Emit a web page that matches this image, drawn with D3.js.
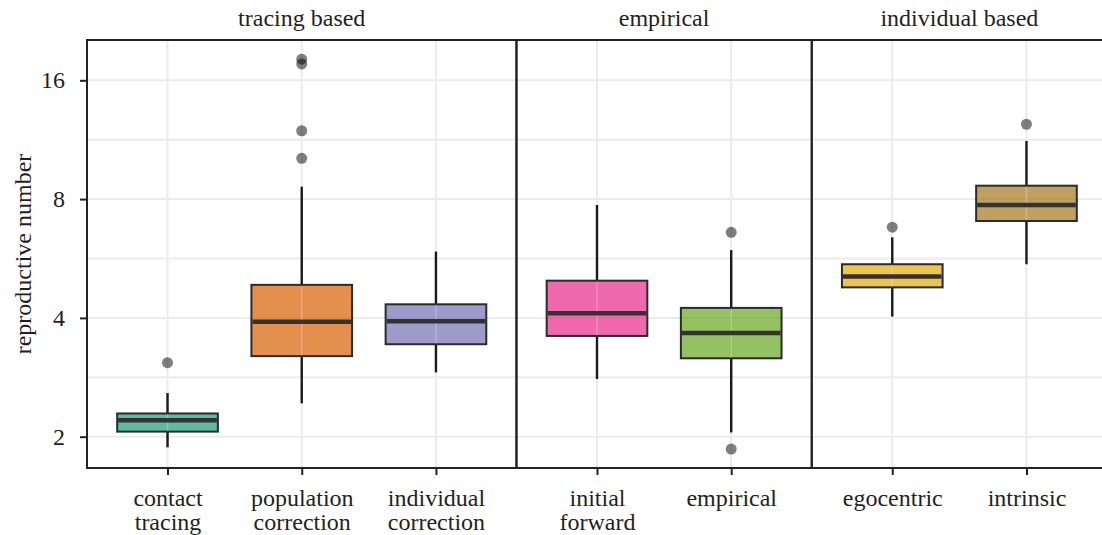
<!DOCTYPE html>
<meta charset="utf-8">
<style>
  body { margin: 0; background: #fff; }
  svg { display: block; font-family: "Liberation Serif", "Times New Roman", serif; }
  .grid line { stroke: #ebebeb; stroke-width: 2px; }
  .axis path { display: none; }
  .axis line { stroke: #222; stroke-width: 2px; }
  .axis text { fill: #1f1f1f; font-size: 24px; font-family: "Liberation Serif", "Times New Roman", serif; }
  .strip { fill: #1f1f1f; font-size: 24px; }
  .frame { fill: none; stroke: #222; stroke-width: 2px; }
</style>
<body>
<svg width="1102" height="535"></svg>
<script src="https://d3js.org/d3.v7.min.js"></script>
<script>
// data -------------------------------------------------------------------
const facets = ["tracing based", "empirical", "individual based"];
const categories = ["contact tracing", "population correction", "individual correction",
                    "initial forward", "empirical", "egocentric", "intrinsic"];
const catLabels = [["contact", "tracing"], ["population", "correction"], ["individual", "correction"],
                   ["initial", "forward"], ["empirical"], ["egocentric"], ["intrinsic"]];
const facetOf = [0, 0, 0, 1, 1, 2, 2];
const whiskerLow = [1.88, 2.43, 2.91, 2.80, 2.05, 4.03, 5.47];
const q1 = [2.06, 3.20, 3.43, 3.60, 3.16, 4.78, 7.04];
const median = [2.20, 3.91, 3.92, 4.11, 3.66, 5.09, 7.73];
const q3 = [2.29, 4.85, 4.33, 4.97, 4.24, 5.47, 8.65];
const whiskerHigh = [2.58, 8.60, 5.89, 7.73, 5.94, 6.40, 11.23];
const outliers = [[3.08], [10.15, 11.92, 17.6, 18.1], [], [], [6.59, 1.86], [6.79], [12.38]];
const yTicks = [2, 4, 8, 16];
const yMinor = [2.83, 5.66, 11.31];
const colors = ["#1B9E77", "#D95F02", "#7570B3", "#E7298A", "#66A61E", "#E6AB02", "#A6761D"];
//--------------------------------------------------------------------------

const svg = d3.select("svg");
const mLeft = 87, mRight = 1107, mTop = 40, mBottom = 468;

const y = d3.scaleLog().base(2).domain([1.666, 20.24]).range([mBottom, mTop]);

// panel widths follow the number of categories (0.6 step expansion each side)
const counts = facets.map((f, i) => facetOf.filter(d => d === i).length);
const units = d3.sum(counts, c => c + 0.2);
const step = (mRight - mLeft) / units;
let cursor = mLeft;
const panels = facets.map((f, i) => {
  const x0 = cursor, x1 = cursor + (counts[i] + 0.2) * step;
  cursor = x1;
  const cats = categories.filter((c, j) => facetOf[j] === i);
  const x = d3.scalePoint().domain(cats).range([x0, x1]).padding(0.6);
  return { name: f, x0, x1, cats, x };
});

const xOf = j => panels[facetOf[j]].x(categories[j]);

// grid
panels.forEach(p => {
  const g = svg.append("g").attr("class", "grid");
  g.selectAll(".h").data(yTicks.concat(yMinor)).enter().append("line")
    .attr("x1", p.x0).attr("x2", p.x1)
    .attr("y1", d => y(d)).attr("y2", d => y(d));
  g.selectAll(".v").data(p.cats).enter().append("line")
    .attr("x1", d => p.x(d)).attr("x2", d => p.x(d))
    .attr("y1", mTop).attr("y2", mBottom);
});

// boxes
const bw = step * 0.75;
const idx = d3.range(categories.length);
const boxes = svg.append("g");

boxes.selectAll(".wl").data(idx).enter().append("line")
  .attr("x1", xOf).attr("x2", xOf)
  .attr("y1", j => y(whiskerLow[j])).attr("y2", j => y(q1[j]))
  .attr("stroke", "#1a1a1a").attr("stroke-width", 2.4);
boxes.selectAll(".wh").data(idx).enter().append("line")
  .attr("x1", xOf).attr("x2", xOf)
  .attr("y1", j => y(q3[j])).attr("y2", j => y(whiskerHigh[j]))
  .attr("stroke", "#1a1a1a").attr("stroke-width", 2.4);

boxes.selectAll(".box").data(idx).enter().append("rect")
  .attr("x", j => xOf(j) - bw / 2).attr("width", bw)
  .attr("y", j => y(q3[j])).attr("height", j => y(q1[j]) - y(q3[j]))
  .attr("fill", j => colors[j]).attr("fill-opacity", 0.7)
  .attr("stroke", "#2b2b2b").attr("stroke-width", 2);

boxes.selectAll(".sheen").data(idx).enter().append("line")
  .attr("x1", xOf).attr("x2", xOf)
  .attr("y1", j => y(q3[j]) + 1).attr("y2", j => y(q1[j]) - 1)
  .attr("stroke", "#fff").attr("stroke-opacity", 0.3).attr("stroke-width", 1.5);

boxes.selectAll(".med").data(idx).enter().append("line")
  .attr("x1", j => xOf(j) - bw / 2 + 1).attr("x2", j => xOf(j) + bw / 2 - 1)
  .attr("y1", j => y(median[j])).attr("y2", j => y(median[j]))
  .attr("stroke", "#333").attr("stroke-width", 4.5);

// outliers
const pts = idx.flatMap(j => outliers[j].map(v => ({ j, v })));
svg.append("g").selectAll("circle").data(pts).enter().append("circle")
  .attr("cx", d => xOf(d.j)).attr("cy", d => y(d.v)).attr("r", 5.5)
  .attr("fill", "#000").attr("fill-opacity", 0.5);

// panel frames and strips
panels.forEach(p => {
  svg.append("rect").attr("class", "frame")
    .attr("x", p.x0).attr("y", mTop).attr("width", p.x1 - p.x0).attr("height", mBottom - mTop);
  svg.append("text").attr("class", "strip")
    .attr("x", (p.x0 + p.x1) / 2).attr("y", 26).attr("text-anchor", "middle")
    .text(p.name);

  const ax = svg.append("g").attr("class", "axis")
    .attr("transform", `translate(0,${mBottom})`)
    .call(d3.axisBottom(p.x).tickSize(7).tickFormat(""));
  ax.selectAll(".tick").append("text")
    .attr("y", 38).attr("text-anchor", "middle")
    .each(function (d) {
      const lines = catLabels[categories.indexOf(d)];
      d3.select(this).selectAll("tspan").data(lines).enter().append("tspan")
        .attr("x", 0).attr("dy", (l, i) => i === 0 ? 0 : 24).text(l => l);
    });
});

// y axis
svg.append("g").attr("class", "axis")
  .attr("transform", `translate(${mLeft},0)`)
  .call(d3.axisLeft(y).tickValues(yTicks).tickSize(7).tickPadding(15).tickFormat(d3.format("d")));

svg.append("text")
  .attr("transform", `translate(31,${(mTop + mBottom) / 2}) rotate(-90)`)
  .attr("text-anchor", "middle").attr("fill", "#1f1f1f").attr("font-size", 24)
  .text("reproductive number");
</script>
</body>
